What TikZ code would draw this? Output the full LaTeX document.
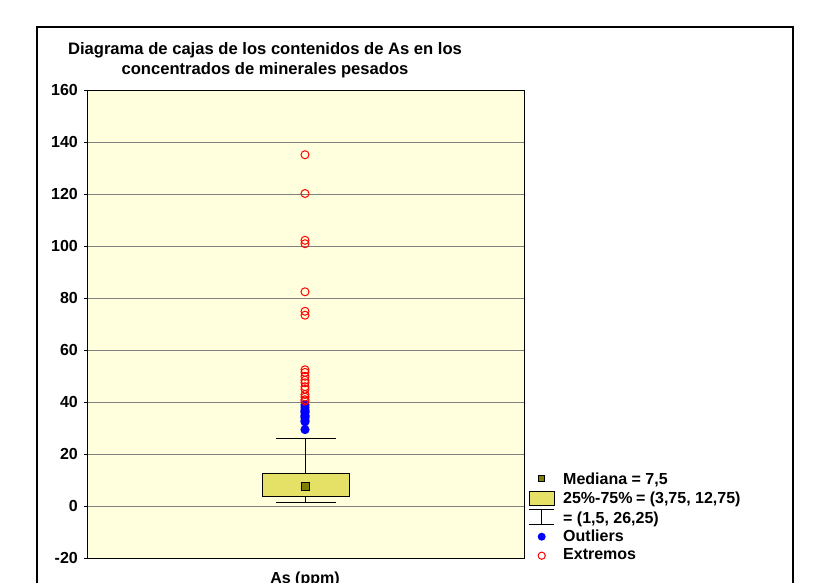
\documentclass[tikz,border=0pt]{standalone}
\usepackage{fontspec}
\setmainfont{Liberation Sans}
\usetikzlibrary{calc}
\definecolor{fondo}{RGB}{255,255,221}
\definecolor{cajafill}{RGB}{229,224,102}
\definecolor{medfill}{RGB}{128,128,0}
\tikzset{
  extremo/.style={draw=red,line width=1pt},
  outlier/.style={fill=blue},
  caja/.style={draw=black,line width=0.8pt,fill=cajafill},
  leyenda/.style={anchor=base west,inner sep=0pt},
}

\begin{document}
\begin{tikzpicture}[x=1pt,y=1pt,font=\bfseries\fontsize{16}{19}\selectfont]
\useasboundingbox (0,0) rectangle (827,583);
\draw[line width=1.2pt] (37,-5) -- (37,556) -- (793,556) -- (793,-5);
\node[anchor=base,inner sep=0pt,font=\bfseries\fontsize{16.6}{20}\selectfont] (titulo1) at (265,528.7) {Diagrama de cajas de los contenidos de As en los};
\node[anchor=base,inner sep=0pt,font=\bfseries\fontsize{16.6}{20}\selectfont] (titulo2) at (265,508) {concentrados de minerales pesados};
\begin{scope}[yshift=76.7pt,y=2.6pt]
\fill[fondo] (87,-20) rectangle (524,160);
\foreach \v in {0,20,...,140} \draw[gray,line width=0.8pt] (87,\v) -- (524,\v);
\foreach \v [count=\i] in {-20,0,...,160} {
  \draw[line width=0.8pt] (84,\v) -- (87,\v);
  \node[anchor=base east,inner sep=0pt,yshift=-5.6pt] (eje\i) at (78,\v) {\v};
}
\draw[line width=1pt] (87,-20) rectangle (524,160);
\node[anchor=base,inner sep=0pt] (xlabel) at (305,-29.6) {As (ppm)};
\draw[line width=0.8pt] (305.5,12.75) -- (305.5,26.25) (276,26.25) -- (336,26.25);
\draw[line width=0.8pt] (305.5,3.75) -- (305.5,1.5) (276,1.5) -- (336,1.5);
\draw[caja] (262.7,3.75) rectangle (349.3,12.75);
\node[draw,line width=0.8pt,fill=medfill,minimum size=8pt,inner sep=0pt] (mediana) at (305.5,7.5) {};
\foreach \v in {29.5,32.5,33,34,34.5,35,36,36.5,37,38,39}
  \fill[outlier] (305,\v) circle[radius=4.6pt];
\foreach \v in {40.5,41,42,43,45,46,47.5,48.5,50,51.5,52.5,73.5,75,82.5,101,102.3,120.3,135.2}
  \draw[extremo] (305,\v) circle[radius=4pt];
\end{scope}
\node[draw,line width=0.8pt,fill=medfill,minimum size=6pt,inner sep=0pt] (legmed) at (541.7,104.5) {};
\node[leyenda] (txtmed) at (563,98) {Mediana = 7,5};
\draw[caja] (529,78) rectangle (554,92);
\node[leyenda] (txtcaja) at (563,79) {25\%-75\%\kern-1pt{} = (3,75, 12,75)};
\draw[line width=0.8pt] (529,73.3) -- (554,73.3) (541.7,73.3) -- (541.7,59) (529,59) -- (554,59);
\node[leyenda] (txtbig) at (563,59.7) {= (1,5, 26,25)};
\fill[outlier] (541.7,46.3) circle[radius=4pt];
\node[leyenda] (txtout) at (563,41.3) {Outliers};
\draw[extremo] (541.7,27.3) circle[radius=3.6pt];
\node[leyenda] (txtext) at (563,23) {Extremos};
\end{tikzpicture}
\end{document}
